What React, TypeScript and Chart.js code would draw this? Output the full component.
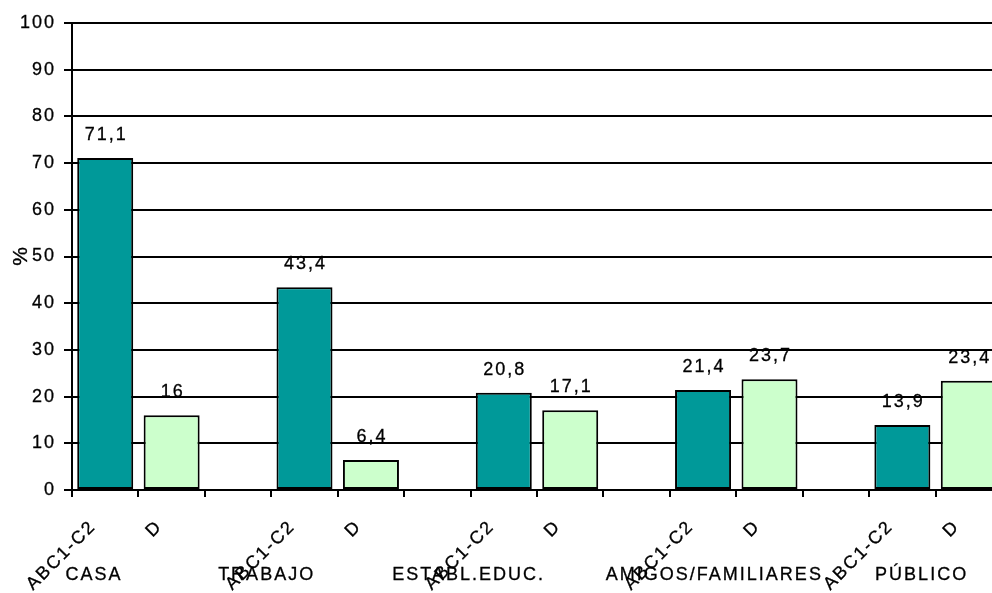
import React, { useEffect, useRef } from "react";
import { Chart, registerables } from "chart.js";

Chart.register(...registerables);

// ---- data ----
const groups = ["CASA", "TRABAJO", "ESTABL.EDUC.", "AMIGOS/FAMILIARES", "PÚBLICO"];
const seriesNames = ["ABC1-C2", "D"];
const abcValues = [71.1, 43.4, 20.8, 21.4, 13.9];
const dValues = [16, 6.4, 17.1, 23.7, 23.4];
const yTickValues = [0, 10, 20, 30, 40, 50, 60, 70, 80, 90, 100];
const yAxisTitle = "%";

// ---- styles / layout ----
const COLOR_ABC = "#009999";
const COLOR_D = "#CCFFCC";
const FONT_FAMILY = "'Liberation Sans', Arial, sans-serif";
const FONT_SIZE = 18;
const LETTER_SPACING = "2px";
const TEXT_STROKE = 0.3;
// horizontal anchor of each group label, in category units from the first slot centre
const groupLabelAnchors = [-0.17, 2.43, 5.47, 9.17, 12.29];

const labels: string[] = [];
const values: (number | null)[] = [];
const colors: string[] = [];
groups.forEach((_, i) => {
  labels.push(seriesNames[0]);
  values.push(abcValues[i]);
  colors.push(COLOR_ABC);
  labels.push(seriesNames[1]);
  values.push(dValues[i]);
  colors.push(COLOR_D);
  if (i < groups.length - 1) {
    labels.push("");
    values.push(null);
    colors.push("transparent");
  }
});

const fmt = (v: number) => String(v).replace(".", ",");

const spacingPlugin = {
  id: "letterSpacing",
  beforeUpdate(chart: any) {
    chart.ctx.letterSpacing = LETTER_SPACING;
  },
  beforeDraw(chart: any) {
    chart.ctx.letterSpacing = LETTER_SPACING;
  },
};

function drawText(ctx: CanvasRenderingContext2D, text: string, x: number, y: number) {
  ctx.fillText(text, x, y);
  ctx.strokeText(text, x, y);
}

function setTextStyle(ctx: CanvasRenderingContext2D, size: number) {
  ctx.font = `${size}px ${FONT_FAMILY}`;
  ctx.fillStyle = "#000";
  ctx.strokeStyle = "#000";
  ctx.lineWidth = TEXT_STROKE;
  ctx.textAlign = "center";
  ctx.textBaseline = "middle";
}

const valueLabelPlugin = {
  id: "valueLabels",
  afterDatasetsDraw(chart: any) {
    const ctx = chart.ctx;
    const meta = chart.getDatasetMeta(0);
    ctx.save();
    setTextStyle(ctx, FONT_SIZE);
    meta.data.forEach((el: any, i: number) => {
      const v = values[i];
      if (v === null || v === undefined) return;
      drawText(ctx, fmt(v), el.x + 1, el.y - 23);
    });
    ctx.restore();
  },
};

const groupLabelPlugin = {
  id: "groupLabels",
  afterDraw(chart: any) {
    const ctx = chart.ctx;
    const xs = chart.scales.x;
    const ys = chart.scales.y;
    const slot = xs.getPixelForValue(1) - xs.getPixelForValue(0);
    ctx.save();
    setTextStyle(ctx, FONT_SIZE);
    groups.forEach((g, i) => {
      const x = xs.getPixelForValue(0) + groupLabelAnchors[i] * slot;
      drawText(ctx, g, x, 575);
    });
    ctx.restore();

    // y axis title
    ctx.save();
    setTextStyle(ctx, 21);
    ctx.letterSpacing = "0px";
    ctx.translate(21, (ys.top + ys.bottom) / 2);
    ctx.rotate(-Math.PI / 2);
    drawText(ctx, yAxisTitle, 0, 0);
    ctx.restore();
  },
};

export default function App() {
  const ref = useRef<HTMLCanvasElement | null>(null);
  useEffect(() => {
    if (!ref.current) return;
    const chart = new Chart(ref.current, {
      type: "bar",
      data: {
        labels,
        datasets: [
          {
            data: values as any,
            backgroundColor: colors,
            borderColor: "#000",
            borderWidth: 2,
            borderSkipped: false,
            categoryPercentage: 1,
            barPercentage: 0.843,
          },
        ],
      },
      options: {
        animation: false,
        responsive: false,
        devicePixelRatio: 1,
        layout: { padding: { top: 23, right: 8, left: 0, bottom: 0 } },
        plugins: {
          legend: { display: false },
          tooltip: { enabled: false },
        },
        scales: {
          x: {
            offset: true,
            grid: {
              offset: true,
              drawOnChartArea: false,
              drawTicks: true,
              tickLength: 7,
              color: "#000",
              lineWidth: 2,
            },
            border: { display: true, color: "#000", width: 2 },
            ticks: {
              autoSkip: false,
              minRotation: 45,
              maxRotation: 45,
              color: "#000",
              textStrokeColor: "#000",
              textStrokeWidth: TEXT_STROKE,
              font: { family: FONT_FAMILY, size: FONT_SIZE },
              padding: 19,
              labelOffset: -12,
            },
            afterFit(scale: any) {
              scale.height = 103;
            },
          },
          y: {
            min: 0,
            max: 100,
            afterBuildTicks(scale: any) {
              scale.ticks = yTickValues.map((v) => ({ value: v }));
            },
            grid: {
              color: "#000",
              lineWidth: 2,
              drawTicks: true,
              tickLength: 8,
            },
            border: { display: true, color: "#000", width: 2 },
            ticks: {
              color: "#000",
              textStrokeColor: "#000",
              textStrokeWidth: TEXT_STROKE,
              font: { family: FONT_FAMILY, size: FONT_SIZE },
              padding: 8,
            },
            afterFit(scale: any) {
              scale.width = 72;
            },
          },
        },
      },
      plugins: [spacingPlugin, valueLabelPlugin, groupLabelPlugin],
    });
    return () => chart.destroy();
  }, []);

  return (
    <div
      style={{
        position: "absolute",
        left: 0,
        top: 0,
        width: 992,
        height: 593,
        overflow: "hidden",
        background: "#fff",
      }}
    >
      <canvas ref={ref} width={1010} height={593} style={{ display: "block" }} />
    </div>
  );
}
